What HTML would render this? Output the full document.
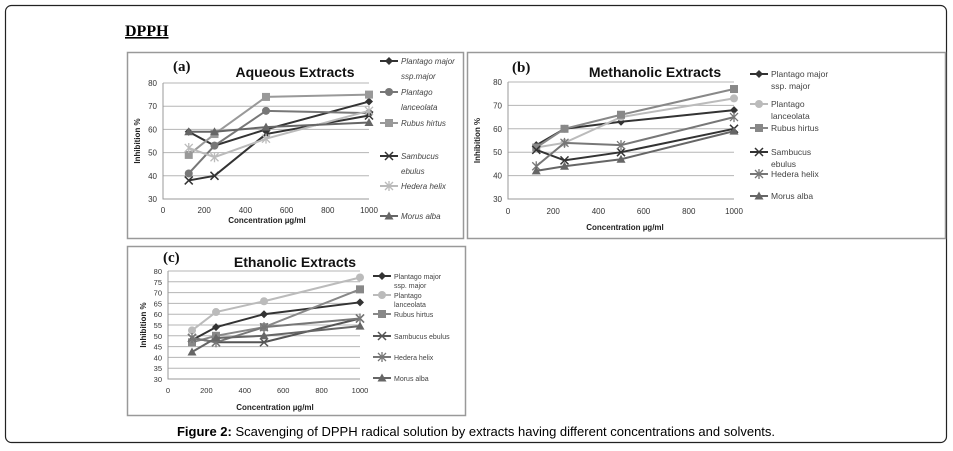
<!DOCTYPE html>
<html><head><meta charset="utf-8"><style>
body{margin:0;background:#fff;}
svg{display:block;font-family:"Liberation Sans",sans-serif;}
</style></head><body>
<svg id="fig" width="953" height="451" viewBox="0 0 953 451">
<rect x="5.5" y="5.5" width="941" height="437" rx="6" fill="#fff" stroke="#222" stroke-width="1.2"/>
<text x="125" y="36" font-family="Liberation Serif" font-weight="bold" font-size="16" text-decoration="underline">DPPH</text>
<text x="476" y="436" text-anchor="middle" font-size="13"><tspan font-weight="bold">Figure 2:</tspan> Scavenging of DPPH radical solution by extracts having different concentrations and solvents.</text>
<g id="charts"></g>
</svg>
<script>
const xCats = [125, 250, 500, 1000];
const seriesNames = ["Plantago major ssp.major","Plantago lanceolata","Rubus hirtus","Sambucus ebulus","Hedera helix","Morus alba"];
const aqPM = [59, 53, 60, 72];
const aqPL = [41, 53, 68, 67];
const aqRH = [49, 58, 74, 75];
const aqSE = [38, 40, 58, 66];
const aqHH = [52, 48, 56, 68];
const aqMA = [59, 59, 61, 63];
const mePM = [53, 60, 63, 68];
const mePL = [52, 54, 65, 73];
const meRH = [52, 60, 66, 77];
const meSE = [51, 46.5, 50, 60];
const meHH = [44, 54, 53, 65];
const meMA = [42, 44, 47, 59];
const etPM = [48, 54, 60, 65.5];
const etPL = [52.5, 61, 66, 77];
const etRH = [47, 50, 54, 71.5];
const etSE = [49, 47, 47, 58];
const etHH = [49, 47, 54, 58];
const etMA = [42.5, 49, 50, 54.5];
const xTicks = [0, 200, 400, 600, 800, 1000];
const yTicks10 = [30, 40, 50, 60, 70, 80];
const yTicks5 = [30, 35, 40, 45, 50, 55, 60, 65, 70, 75, 80];

const NS = "http://www.w3.org/2000/svg";
const root = document.getElementById("charts");
function mk(tag, attrs, parent, text){
  const e = document.createElementNS(NS, tag);
  for (const k in attrs) e.setAttribute(k, attrs[k]);
  if (text !== undefined) e.textContent = text;
  (parent || root).appendChild(e);
  return e;
}
const colors = ["#333","#777","#999","#333","#bbb","#666"];
const colorsB = ["#333","#bbb","#888","#333","#777","#666"];
const colorsC = ["#333","#bbb","#888","#555","#777","#666"];
const markers = ["diamond","circle","square","x","star","triangle"];

function marker(g, type, cx, cy, col){
  let m;
  if (type==="diamond") m = mk("path",{d:`M${cx} ${cy-4}L${cx+4} ${cy}L${cx} ${cy+4}L${cx-4} ${cy}Z`,fill:col},g);
  else if (type==="circle") m = mk("circle",{cx:cx,cy:cy,r:4,fill:col},g);
  else if (type==="square") m = mk("rect",{x:cx-4,y:cy-4,width:8,height:8,fill:col},g);
  else if (type==="triangle") m = mk("path",{d:`M${cx} ${cy-4.5}L${cx+4.5} ${cy+3.5}L${cx-4.5} ${cy+3.5}Z`,fill:col},g);
  else if (type==="x") m = mk("path",{d:`M${cx-4} ${cy-4}L${cx+4} ${cy+4}M${cx+4} ${cy-4}L${cx-4} ${cy+4}`,stroke:col,"stroke-width":1.5},g);
  else m = mk("path",{d:`M${cx-4} ${cy-4}L${cx+4} ${cy+4}M${cx+4} ${cy-4}L${cx-4} ${cy+4}M${cx} ${cy-5}L${cx} ${cy+5}`,stroke:col,"stroke-width":1.3},g);
  
  
}

function chart(cfg){
  const g = mk("g",{});
  
  
  const box = mk("rect",{x:cfg.box[0]+0.5,y:cfg.box[1]+0.5,width:cfg.box[2],height:cfg.box[3],fill:"#fff",stroke:"#999","stroke-width":1.5},g);
  
  
  const sx = v => cfg.x0 + (v/1000)*(cfg.x1-cfg.x0);
  const sy = v => cfg.yb + (v-30)/50*(cfg.yt-cfg.yb);
  cfg.yTicks.forEach(t=>{
    if (t>30){ const l = mk("line",{x1:sx(0),x2:sx(1000),y1:sy(t),y2:sy(t),stroke:"#b5b5b5","stroke-width":1},g);
        }
    const tt = mk("text",{x:sx(0)-6,y:sy(t)+3,"text-anchor":"end","font-size":cfg.fs,fill:"#333"},g,String(t));
     
  });
  const ax = mk("path",{d:`M${sx(0)} ${sy(80)}V${sy(30)}H${sx(1000)}`,stroke:"#999",fill:"none","stroke-width":1},g);
   
  xTicks.forEach(t=>{
    const tt = mk("text",{x:sx(t),y:sy(30)+cfg.xlOff,"text-anchor":"middle","font-size":cfg.fs,fill:"#333"},g,String(t));
     
  });
  const xt = mk("text",{x:cfg.xt[0],y:cfg.xt[1],"text-anchor":"middle","font-size":8,"font-weight":"bold",fill:"#222"},g,"Concentration µg/ml");
   
  const yt = mk("text",{x:0,y:0,"text-anchor":"middle","font-size":8,"font-weight":"bold",fill:"#222",transform:`translate(${cfg.yx},${(sy(30)+sy(80))/2}) rotate(-90)`},g,"Inhibition %");
   
  const ti = mk("text",{x:cfg.title[0],y:cfg.title[1],"text-anchor":"middle","font-size":14,"font-weight":"bold",fill:"#111"},g,cfg.titleText);
   
  const lb = mk("text",{x:cfg.lab[0],y:cfg.lab[1],"font-size":15,"font-family":"Liberation Serif","font-weight":"bold",fill:"#111"},g,cfg.labText);
   
  cfg.series.forEach((s,i)=>{
    const col = cfg.colors[i];
    const pts = s.map((v,j)=>[sx(xCats[j]),sy(v)]);
    const pl = mk("polyline",{points:pts.map(p=>p.join(",")).join(" "),fill:"none",stroke:col,"stroke-width":2},g);
     
    pts.forEach(p=>marker(g,markers[i],p[0],p[1],col));
    const ly = cfg.legY[i];
    const ll = mk("line",{x1:cfg.legX,x2:cfg.legX+18,y1:ly,y2:ly,stroke:col,"stroke-width":2},g);
     
    marker(g,markers[i],cfg.legX+9,ly,col);
    const lines = cfg.legText[i];
    lines.forEach((txt,k)=>{
      const lt = mk("text",{x:cfg.legX+21,y:ly+3+k*cfg.legLH,"font-size":cfg.legFs,fill:"#444","font-style":cfg.italic?"italic":"normal"},g,txt);
       
    });
  });
}

chart({name:"chart-aqueous",box:[127,52,336,186],x0:163,x1:369,yt:83,yb:199,yTicks:yTicks10,fs:8,xlOff:14,
  xt:[267,223],yx:140,title:[295,77],titleText:"Aqueous Extracts",lab:[173,71],labText:"(a)",
  series:[aqPM,aqPL,aqRH,aqSE,aqHH,aqMA],colors:colors,legX:380,legY:[61,92,123,156,186,216],italic:true,legFs:8,legLH:15,
  legText:[["Plantago major","ssp.major"],["Plantago","lanceolata"],["Rubus hirtus"],["Sambucus","ebulus"],["Hedera helix"],["Morus alba"]]});
chart({name:"chart-methanolic",box:[467,52,478,186],x0:508,x1:734,yt:82,yb:199,yTicks:yTicks10,fs:8,xlOff:15,
  xt:[625,230],yx:480,title:[655,77],titleText:"Methanolic Extracts",lab:[512,72],labText:"(b)",
  series:[mePM,mePL,meRH,meSE,meHH,meMA],colors:colorsB,legX:750,legY:[74,104,128,152,174,196],italic:false,legFs:8.5,legLH:12,
  legText:[["Plantago major","ssp. major"],["Plantago","lanceolata"],["Rubus hirtus"],["Sambucus","ebulus"],["Hedera helix"],["Morus alba"]]});
chart({name:"chart-ethanolic",box:[127,246,338,169],x0:168,x1:360,yt:271,yb:379,yTicks:yTicks5,fs:7.5,xlOff:14,
  xt:[275,410],yx:146,title:[295,267],titleText:"Ethanolic Extracts",lab:[163,262],labText:"(c)",
  series:[etPM,etPL,etRH,etSE,etHH,etMA],colors:colorsC,legX:373,legY:[276,295,314,336,357,378],italic:false,legFs:7,legLH:9,
  legText:[["Plantago major","ssp. major"],["Plantago","lanceolata"],["Rubus hirtus"],["Sambucus ebulus"],["Hedera helix"],["Morus alba"]]});
</script>
</body></html>
